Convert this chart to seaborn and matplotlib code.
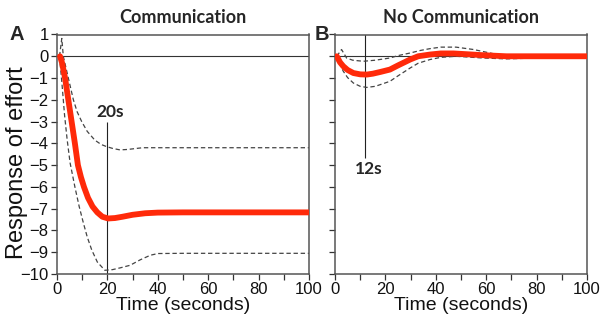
import numpy as np
import pandas as pd
import matplotlib
matplotlib.use("Agg")
import matplotlib.pyplot as plt
import seaborn as sns

# ---------------- data ----------------
# Panel A: Communication
a_mean_t = [1.2, 2, 3.2, 4.5, 5.8, 7.1, 8.3, 9.5, 10.7, 12.3, 14.1, 16, 18, 20.3, 23, 26, 30, 35, 40, 50, 60, 80, 100]
a_mean_v = [0, -0.3, -1, -2, -3, -4, -5, -5.55, -6, -6.5, -6.9, -7.17, -7.37, -7.45, -7.43, -7.37, -7.28, -7.21, -7.18, -7.17, -7.17, -7.17, -7.17]

a_upper_t = [1.0, 1.9, 2.5, 3.5, 4.5, 6.5, 8, 9.8, 12, 15, 17.5, 19.7, 22, 25, 28, 31, 34, 40, 60, 100]
a_upper_v = [0, 0.82, 0, -0.5, -1, -2, -2.55, -3, -3.45, -3.85, -4.05, -4.15, -4.23, -4.3, -4.28, -4.24, -4.2, -4.2, -4.2, -4.2]

a_lower_t = [1.0, 2, 3, 4, 5.2, 7.1, 8.8, 10.5, 12, 13.8, 16, 19, 22, 25, 29, 33, 37, 40, 50, 100]
a_lower_v = [0, -1.3, -2.7, -3.8, -4.9, -6.0, -6.9, -7.67, -8.3, -8.9, -9.45, -9.83, -9.8, -9.72, -9.6, -9.35, -9.14, -9.06, -9.05, -9.05]

# Panel B: No Communication
b_mean_t = [0.7, 2, 3.3, 5, 7.3, 10, 12.6, 15, 18, 21.8, 25, 29.8, 33, 37.7, 42, 47, 53, 58.7, 68, 80, 100]
b_mean_v = [0, -0.28, -0.46, -0.63, -0.77, -0.83, -0.84, -0.8, -0.72, -0.61, -0.42, -0.15, 0.0, 0.08, 0.13, 0.13, 0.09, 0.05, 0.0, 0.0, 0.0]

b_upper_t = [0.7, 2.6, 4.6, 7, 11.2, 16, 21.8, 25, 29.8, 34, 37.7, 42, 48, 55, 61.5, 68, 75, 85, 100]
b_upper_v = [0, 0.31, -0.08, -0.18, -0.23, -0.18, -0.08, 0.03, 0.15, 0.27, 0.35, 0.42, 0.42, 0.31, 0.15, 0.0, -0.05, -0.02, 0.0]

b_lower_t = [0.7, 1.3, 3.3, 5, 7.3, 10, 12.6, 16, 21.8, 25, 29.8, 33, 37.7, 42, 48, 58.7, 68, 80, 100]
b_lower_v = [0, -0.23, -0.69, -0.98, -1.23, -1.38, -1.43, -1.38, -1.15, -0.9, -0.54, -0.32, -0.15, -0.05, 0.0, -0.08, -0.12, -0.08, -0.02]

titles = ["Communication", "No Communication"]
panel_letters = ["A", "B"]
peak_times = [20, 12]
peak_labels = ["20s", "12s"]
peak_line_spans = [(-3.0, -10.0), (1.0, -4.67)]
peak_label_pos = [(21, -2.55), (13.3, -5.2)]

x_ticks = [0, 20, 40, 60, 80, 100]
x_minor = [10, 30, 50, 70, 90]
y_ticks = list(range(-10, 2))

# ---------------- plotting ----------------
sns.set_theme(style="ticks")
plt.rcParams["font.family"] = ["Liberation Sans", "DejaVu Sans"]

fig = plt.figure(figsize=(6.02, 3.21), dpi=100)
W, H = 602, 321
def rect(l, r, t, b):
    return [l / W, 1 - b / H, (r - l) / W, (b - t) / H]

axA = fig.add_axes(rect(57, 309, 34.5, 274))
axB = fig.add_axes(rect(335, 587, 34.5, 274))

panels = [
    (axA, a_mean_t, a_mean_v, a_upper_t, a_upper_v, a_lower_t, a_lower_v),
    (axB, b_mean_t, b_mean_v, b_upper_t, b_upper_v, b_lower_t, b_lower_v),
]

red = "#ff2a0a"
for i, (ax, mt, mv, ut, uv, lt, lv) in enumerate(panels):
    ax.axhline(0, color="#333333", lw=0.8, zorder=1)
    lo, hi = peak_line_spans[i]
    ax.vlines(peak_times[i], lo, hi, color="#222222", lw=0.8, zorder=1)
    for t, v in [(ut, uv), (lt, lv)]:
        df = pd.DataFrame({"t": t, "v": v})
        sns.lineplot(data=df, x="t", y="v", ax=ax, color="#444444", lw=0.9,
                     linestyle=(0, (3.5, 2.2)), zorder=2)
    dfm = pd.DataFrame({"t": mt, "v": mv})
    sns.lineplot(data=dfm, x="t", y="v", ax=ax, color=red, lw=4.2,
                 solid_capstyle="round", zorder=3)

    ax.set_xlim(0, 100)
    ax.set_ylim(-10, 1)
    ax.set_xticks(x_ticks)
    ax.set_xticks(x_minor, minor=True)
    ax.set_yticks(y_ticks)
    ax.tick_params(axis="both", which="both", direction="out", length=4,
                   width=0.9, color="#333333", labelsize=12, pad=2,
                   labelcolor="#111111")
    for s in ax.spines.values():
        s.set_visible(True)
        s.set_color("#555555")
        s.set_linewidth(1.1)
    ax.set_xlabel("Time (seconds)", fontsize=14, labelpad=0, color="#111111")
    ax.set_ylabel("")
    ax.set_title(titles[i], fontsize=13, fontweight="bold",
                 family=["Lato", "DejaVu Sans"], pad=8)
    tx, ty = peak_label_pos[i]
    ax.text(tx, ty, peak_labels[i], fontsize=12.5, fontweight="bold",
            family=["Lato", "DejaVu Sans"], ha="center", va="center")

axB.set_yticklabels([])
axA.set_ylabel("Response of effort", fontsize=17, color="#111111")
axA.yaxis.label.set_va("center")
axA.yaxis.set_label_coords((17 - 57) / 252, 1 - (163 - 34.5) / 239.5)

fig.text(17 / W, 1 - 35 / H, panel_letters[0], fontsize=14.5, fontweight="bold",
         ha="center", va="center")
fig.text(322 / W, 1 - 35 / H, panel_letters[1], fontsize=14.5, fontweight="bold",
         ha="center", va="center")

fig.savefig("out.png", dpi=100)
